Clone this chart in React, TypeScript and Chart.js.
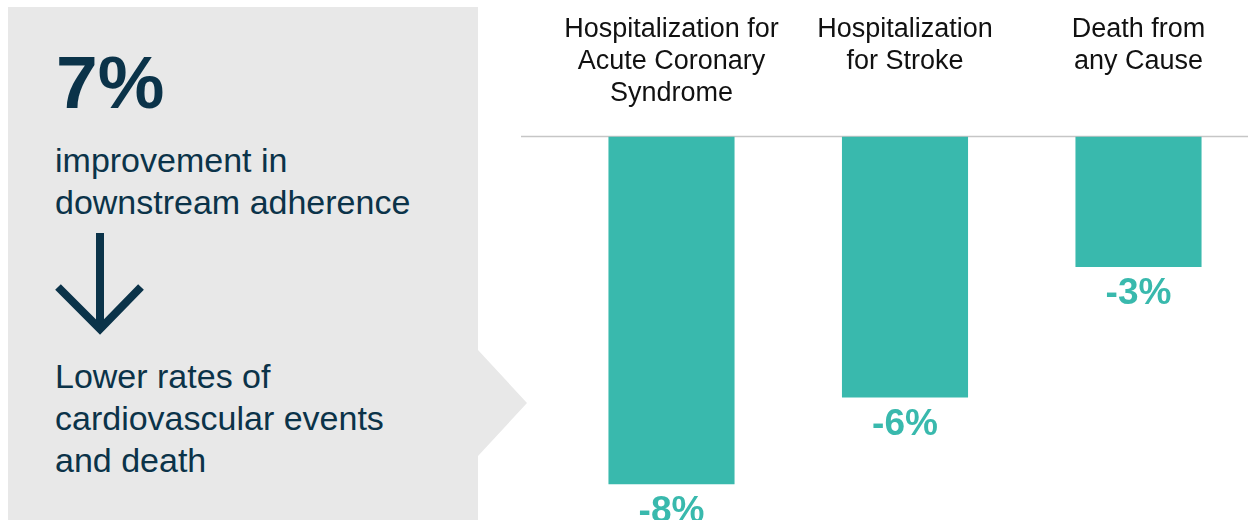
import React, { useEffect, useRef } from "react";
import { Chart, registerables } from "chart.js";

Chart.register(...registerables);

const categories: string[][] = [
  ["Hospitalization for", "Acute Coronary", "Syndrome"],
  ["Hospitalization", "for Stroke"],
  ["Death from", "any Cause"],
];
const changes: number[] = [-8, -6, -3];
const headline = "7%";
const headlineSub = ["improvement in", "downstream adherence"];
const outcomeText = ["Lower rates of", "cardiovascular events", "and death"];

const TEAL = "#39b9ad";
const NAVY = "#0b3349";
const FONT = '"Liberation Sans", Arial, Helvetica, sans-serif';

const baselinePlugin = {
  id: "baseline",
  beforeDatasetsDraw(chart: any) {
    const y = chart.scales.y.getPixelForValue(0);
    const ctx = chart.ctx;
    ctx.save();
    ctx.strokeStyle = "#c6c6c6";
    ctx.lineWidth = 1.5;
    ctx.beginPath();
    ctx.moveTo(0, y);
    ctx.lineTo(chart.width, y);
    ctx.stroke();
    ctx.restore();
  },
};

const valueLabelPlugin = {
  id: "valueLabels",
  afterDatasetsDraw(chart: any) {
    const ctx = chart.ctx;
    const meta = chart.getDatasetMeta(0);
    ctx.save();
    ctx.fillStyle = TEAL;
    ctx.font = `bold 37px ${FONT}`;
    ctx.textAlign = "center";
    ctx.textBaseline = "alphabetic";
    meta.data.forEach((bar: any, i: number) => {
      const v = chart.data.datasets[0].data[i];
      ctx.fillText(`${v}%`, bar.x, bar.y + 37);
    });
    ctx.restore();
  },
};

function BarChart() {
  const ref = useRef<HTMLCanvasElement | null>(null);
  useEffect(() => {
    if (!ref.current) return;
    const chart = new Chart(ref.current, {
      type: "bar",
      data: {
        labels: categories,
        datasets: [
          {
            data: changes,
            backgroundColor: TEAL,
            borderWidth: 0,
            barPercentage: 1,
            categoryPercentage: 0.54,
          },
        ],
      },
      options: {
        responsive: false,
        animation: false,
        layout: { padding: { left: 33.75, right: 0.75, top: 10.5, bottom: 35.5 } },
        plugins: { legend: { display: false }, tooltip: { enabled: false } },
        scales: {
          x: {
            position: "top",
            grid: { display: false, drawTicks: false },
            border: { display: false },
            afterFit: (scale: any) => {
              scale.height = 126;
            },
            ticks: {
              color: "#111111",
              font: { family: FONT, size: 27, lineHeight: "32px" } as any,
              padding: 27,
              maxRotation: 0,
              minRotation: 0,
              autoSkip: false,
              crossAlign: "far",
            },
          },
          y: {
            display: false,
            min: -8,
            max: 0,
          },
        },
      },
      plugins: [baselinePlugin, valueLabelPlugin],
    });
    return () => chart.destroy();
  }, []);
  return <canvas ref={ref} width={735} height={520} />;
}

export default function App() {
  return (
    <div
      style={{
        position: "fixed",
        left: 0,
        top: 0,
        width: 1248,
        height: 520,
        overflow: "hidden",
        background: "#ffffff",
        fontFamily: FONT,
      }}
    >
      <svg
        width={1248}
        height={520}
        style={{ position: "absolute", left: 0, top: 0 }}
      >
        <polygon
          points="8,7 478,7 478,350 527,403 478,456 478,520 8,520"
          fill="#e8e8e8"
        />
        <line x1={100} y1={233} x2={100} y2={328} stroke={NAVY} strokeWidth={8} />
        <polyline
          points="58,287 100,329 141,287"
          fill="none"
          stroke={NAVY}
          strokeWidth={8}
          strokeLinejoin="miter"
        />
      </svg>
      <div
        style={{
          position: "absolute",
          left: 56,
          top: 45.4,
          fontSize: 75,
          lineHeight: "74px",
          fontWeight: "bold",
          color: NAVY,
          whiteSpace: "nowrap",
        }}
      >
        {headline}
      </div>
      <div
        style={{
          position: "absolute",
          left: 55,
          top: 139.2,
          fontSize: 34,
          lineHeight: "42px",
          color: NAVY,
          whiteSpace: "nowrap",
        }}
      >
        {headlineSub.map((t) => (
          <div key={t}>{t}</div>
        ))}
      </div>
      <div
        style={{
          position: "absolute",
          left: 55,
          top: 355.2,
          fontSize: 34,
          lineHeight: "42px",
          color: NAVY,
          whiteSpace: "nowrap",
        }}
      >
        {outcomeText.map((t) => (
          <div key={t}>{t}</div>
        ))}
      </div>
      <div
        style={{
          position: "absolute",
          left: 521,
          top: 0,
          width: 727,
          height: 520,
          overflow: "hidden",
        }}
      >
        <BarChart />
      </div>
    </div>
  );
}
